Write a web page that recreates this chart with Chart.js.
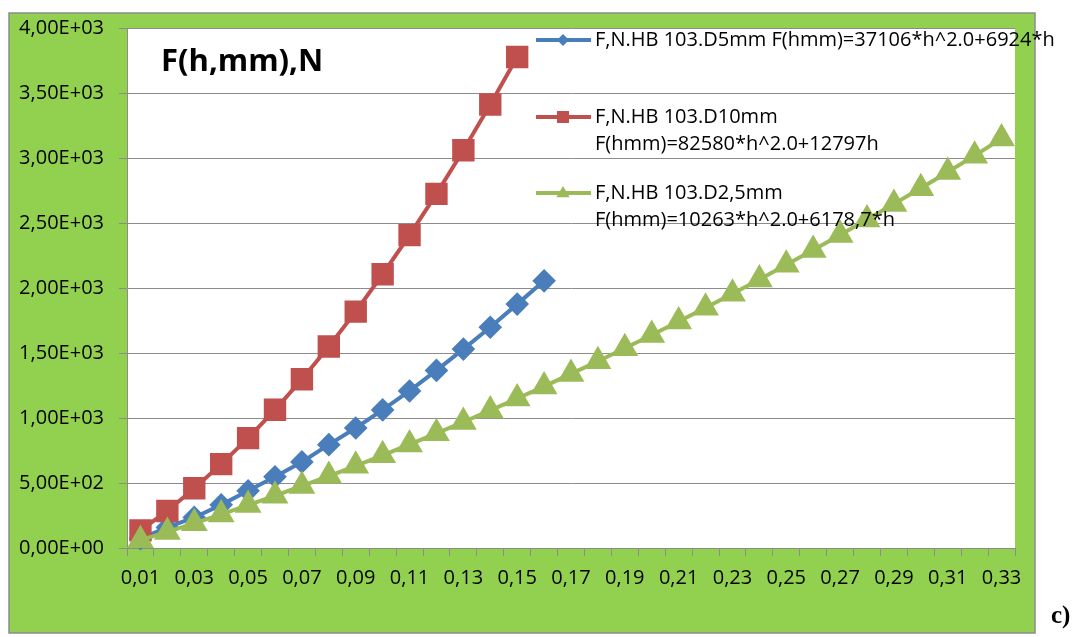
<!DOCTYPE html>
<html>
<head>
<meta charset="utf-8">
<script src="https://cdn.jsdelivr.net/npm/chart.js@4.4.1/dist/chart.umd.min.js"></script>
<style>
html,body{margin:0;padding:0;background:#fff;}
</style>
</head>
<body>
<canvas id="myChart" width="1076" height="637"></canvas>
<script>
// categories (h, mm)
var hLabels = ['0,01','0,02','0,03','0,04','0,05','0,06','0,07','0,08','0,09','0,10','0,11',
  '0,12','0,13','0,14','0,15','0,16','0,17','0,18','0,19','0,20','0,21','0,22','0,23',
  '0,24','0,25','0,26','0,27','0,28','0,29','0,30','0,31','0,32','0,33'];

// series values, F in N
var fD5 = [72, 158, 235, 332, 440, 548, 662, 795, 923, 1062, 1208, 1366, 1530, 1698, 1876, 2055];
var fD10 = [136, 285, 460, 645, 845, 1063, 1298, 1550, 1818, 2106, 2407, 2724, 3060, 3412, 3777];
var fD25 = [60, 124, 190, 258, 330, 402, 477, 553, 632, 713, 797, 882, 969, 1058, 1150, 1243,
  1339, 1437, 1537, 1638, 1742, 1848, 1956, 2066, 2178, 2292, 2408, 2527, 2647, 2768, 2892, 3018, 3150];

var seriesNames = [
  ['F,N.HB 103.D5mm F(hmm)=37106*h^2.0+6924*h'],
  ['F,N.HB 103.D10mm', 'F(hmm)=82580*h^2.0+12797h'],
  ['F,N.HB 103.D2,5mm', 'F(hmm)=10263*h^2.0+6178,7*h']
];

// y tick labels
var yTickLabels = ['0,00E+00','5,00E+02','1,00E+03','1,50E+03','2,00E+03','2,50E+03','3,00E+03','3,50E+03','4,00E+03'];

var FONT = '"Open Sans", sans-serif';

function drawMarker(ctx, style, x, y, r) {
  ctx.beginPath();
  if (style == 'rect') {
    ctx.rect(x - r, y - r, 2 * r, 2 * r);
  } else if (style == 'rectRot') {
    ctx.moveTo(x - r, y); ctx.lineTo(x, y - r); ctx.lineTo(x + r, y); ctx.lineTo(x, y + r);
    ctx.closePath();
  } else {
    ctx.moveTo(x, y - r); ctx.lineTo(x + r * 0.95, y + r * 0.6); ctx.lineTo(x - r * 0.95, y + r * 0.6);
    ctx.closePath();
  }
  ctx.fill();
}

var frame = {
  id: 'frame',
  beforeDraw: function(chart) {
    var ctx = chart.ctx, a = chart.chartArea;
    ctx.save();
    ctx.fillStyle = '#92d050';
    ctx.fillRect(9, 13, 1026, 620);
    ctx.strokeStyle = '#8c8c8c';
    ctx.lineWidth = 1.5;
    ctx.strokeRect(9, 13, 1026, 620);
    ctx.fillStyle = '#ffffff';
    ctx.fillRect(a.left, a.top, a.right - a.left, a.bottom - a.top);
    ctx.restore();
  },
  afterDraw: function(chart) {
    var ctx = chart.ctx;
    ctx.save();
    // title inside the plot
    ctx.fillStyle = '#000';
    ctx.font = 'bold 31px ' + FONT;
    ctx.textBaseline = 'middle';
    ctx.fillText('F(h,mm),N', 161, 62);

    // legend
    var rows = [40, 117, 193];
    var markerR = [6, 6, 7];
    ctx.font = '20px ' + FONT;
    chart.data.datasets.forEach(function(ds, i) {
      var y = rows[i];
      ctx.strokeStyle = ds.borderColor;
      ctx.lineWidth = 4;
      ctx.beginPath();
      ctx.moveTo(536, y); ctx.lineTo(591, y);
      ctx.stroke();
      ctx.fillStyle = ds.backgroundColor;
      drawMarker(ctx, ds.pointStyle, 563, y, markerR[i]);
      ctx.fillStyle = '#000';
      seriesNames[i].forEach(function(line, k) {
        ctx.fillText(line, 595, y + k * 27);
      });
    });

    // panel letter
    ctx.font = 'bold 25px "Liberation Serif", serif';
    ctx.fillText('c)', 1051, 617);
    ctx.restore();
  }
};

var ctx = document.getElementById('myChart').getContext('2d');
var chart = new Chart(ctx, {
  type: 'line',
  data: {
    labels: hLabels,
    datasets: [{
      label: seriesNames[0].join(' '),
      data: fD5,
      borderColor: '#4a7ebb',
      backgroundColor: '#4a7ebb',
      pointStyle: 'rectRot',
      pointRadius: 9,
      borderWidth: 4,
      order: 3
    }, {
      label: seriesNames[1].join(' '),
      data: fD10,
      borderColor: '#c0504d',
      backgroundColor: '#c0504d',
      pointStyle: 'rect',
      pointRadius: 13,
      borderWidth: 4,
      order: 2
    }, {
      label: seriesNames[2].join(' '),
      data: fD25,
      borderColor: '#9bbb59',
      backgroundColor: '#9bbb59',
      pointStyle: 'triangle',
      pointRadius: 11.5,
      borderWidth: 4,
      order: 1
    }]
  },
  options: {
    responsive: false,
    animation: false,
    clip: false,
    elements: { line: { tension: 0 }, point: { borderWidth: 0, hoverRadius: 9 } },
    layout: { padding: { left: 9, top: 28, right: 61, bottom: 0 } },
    plugins: { legend: { display: false }, tooltip: { enabled: false } },
    scales: {
      x: {
        offset: true,
        afterFit: function(s) { s.height = 89; },
        grid: { offset: true, drawOnChartArea: false, drawTicks: true, tickLength: 8, color: '#8c8c8c' },
        border: { color: '#8c8c8c', width: 1 },
        ticks: {
          autoSkip: false, maxRotation: 0, padding: 10, color: '#000',
          font: { family: FONT, size: 20 },
          callback: function(v, i) { return i % 2 == 0 ? hLabels[i] : ''; }
        }
      },
      y: {
        min: 0, max: 4000,
        afterFit: function(s) { s.width = 118; },
        grid: { color: '#8c8c8c', tickLength: 8 },
        border: { color: '#8c8c8c', width: 1 },
        ticks: {
          stepSize: 500, padding: 15, color: '#000',
          font: { family: FONT, size: 20 },
          callback: function(v) { return yTickLabels[Math.round(v / 500)]; }
        }
      }
    }
  },
  plugins: [frame]
});
</script>
</body>
</html>
